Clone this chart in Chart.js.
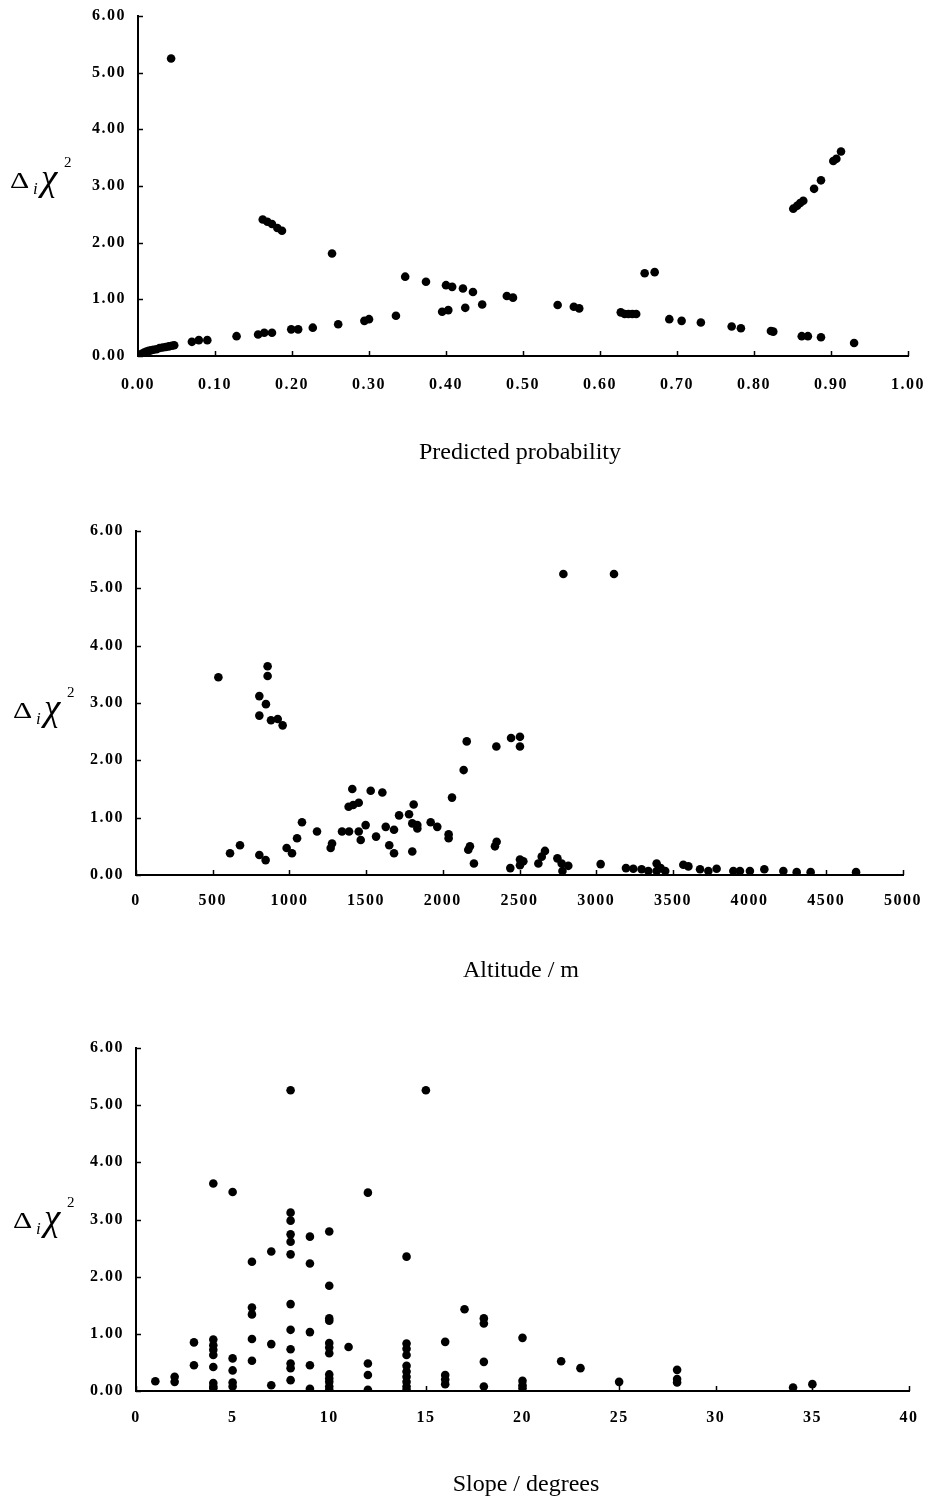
<!DOCTYPE html>
<html>
<head>
<meta charset="utf-8">
<script src="https://cdn.jsdelivr.net/npm/chart.js@4.4.1/dist/chart.umd.min.js"></script>
<style>
  html, body { margin: 0; padding: 0; background: #fff; }
  #page { position: relative; width: 928px; height: 1502px; background: #fff; }
  .panel { position: absolute; left: 0; width: 928px; }
  .panel canvas { display: block; }
</style>
</head>
<body>
<div id="page">
  <div class="panel" style="top:0px"><canvas id="prob-chart" width="928" height="480"></canvas></div>
  <div class="panel" style="top:515px"><canvas id="alt-chart" width="928" height="475"></canvas></div>
  <div class="panel" style="top:1030px"><canvas id="slope-chart" width="928" height="472"></canvas></div>
</div>
<script>
// Shared y axis (delta chi-square)
const yTicks = [0, 1, 2, 3, 4, 5, 6];

// Panel 1: predicted probability
const probTicks = [0, 0.1, 0.2, 0.3, 0.4, 0.5, 0.6, 0.7, 0.8, 0.9, 1.0];
const probX = [
  0.002, 0.005, 0.008, 0.011, 0.014, 0.017, 0.020, 0.024, 0.028, 0.032, 0.036, 0.040, 0.044, 0.047,
  0.043, 0.162, 0.168, 0.174, 0.181, 0.187, 0.252,
  0.070, 0.079, 0.090, 0.128, 0.156, 0.164, 0.174, 0.199, 0.208, 0.227, 0.260, 0.294, 0.300, 0.335,
  0.347, 0.374, 0.395, 0.403, 0.400, 0.408, 0.422, 0.425, 0.435, 0.447, 0.479, 0.487,
  0.545, 0.566, 0.573, 0.627, 0.632, 0.637, 0.642, 0.647,
  0.658, 0.671, 0.690, 0.706, 0.731, 0.771, 0.783, 0.822, 0.825, 0.862, 0.870, 0.887, 0.930,
  0.851, 0.856, 0.860, 0.864, 0.878, 0.887, 0.903, 0.907, 0.913
];
const probY = [
  0.02, 0.04, 0.06, 0.08, 0.09, 0.10, 0.11, 0.12, 0.14, 0.15, 0.16, 0.17, 0.18, 0.19,
  5.25, 2.41, 2.37, 2.33, 2.26, 2.21, 1.81,
  0.25, 0.28, 0.28, 0.35, 0.38, 0.41, 0.41, 0.47, 0.47, 0.50, 0.56, 0.62, 0.65, 0.71,
  1.40, 1.31, 0.78, 0.81, 1.25, 1.22, 1.19, 0.85, 1.13, 0.91, 1.06, 1.03,
  0.90, 0.87, 0.84, 0.77, 0.74, 0.74, 0.74, 0.74,
  1.46, 1.48, 0.65, 0.62, 0.59, 0.52, 0.49, 0.44, 0.43, 0.35, 0.35, 0.33, 0.23,
  2.60, 2.65, 2.70, 2.74, 2.95, 3.10, 3.44, 3.48, 3.61
];

// Panel 2: altitude
const altTicks = [0, 500, 1000, 1500, 2000, 2500, 3000, 3500, 4000, 4500, 5000];
const altX = [
  537, 613, 678, 804, 845, 804, 847, 804, 858, 858, 880, 924, 956,
  982, 1017, 1050, 1082, 1180, 1269, 1278, 1343, 1389, 1410, 1386, 1416, 1452, 1452, 1465,
  1497, 1530, 1565, 1606, 1628, 1651, 1682, 1682, 1715, 1780, 1801, 1810, 1801, 1834, 1834,
  1921, 1964, 2038, 2038, 2060, 2136, 2156, 2166, 2177, 2203, 2340, 2351, 2349,
  2445, 2440, 2503, 2503, 2503, 2525, 2503, 2623, 2645, 2666, 2747, 2775, 2818, 2780,
  2786, 3116, 3029, 3194, 3242, 3296, 3340, 3394, 3394, 3420, 3450, 3568, 3601,
  3677, 3731, 3785, 3894, 3937, 4002, 4096, 4220, 4307, 4398, 4694
];
const altY = [
  3.45, 0.38, 0.52, 0.35, 0.26, 3.12, 2.98, 2.78, 3.64, 3.47, 2.70, 2.72, 2.61,
  0.47, 0.38, 0.64, 0.92, 0.76, 0.47, 0.55, 0.76, 0.76, 1.50, 1.19, 1.22, 1.26, 0.76, 0.61,
  0.87, 1.47, 0.67, 1.44, 0.84, 0.52, 0.79, 0.38, 1.04, 1.06, 0.41, 1.23, 0.90, 0.87, 0.81,
  0.92, 0.84, 0.71, 0.64, 1.35, 1.83, 2.33, 0.44, 0.50, 0.20, 0.50, 0.58, 2.24,
  2.39, 0.12, 2.41, 2.24, 0.27, 0.24, 0.17, 0.20, 0.32, 0.42, 0.29, 0.20, 0.16, 0.07,
  5.25, 5.25, 0.19, 0.12, 0.11, 0.10, 0.07, 0.20, 0.07, 0.12, 0.07, 0.18, 0.15,
  0.10, 0.07, 0.11, 0.07, 0.07, 0.07, 0.10, 0.07, 0.05, 0.05, 0.05
];

// Panel 3: slope
const slopeTicks = [0, 5, 10, 15, 20, 25, 30, 35, 40];
const slopeX = [
  1, 2, 2, 3, 3,
  4, 4, 4, 4, 4, 4, 4, 4, 4,
  5, 5, 5, 5, 5,
  6, 6, 6, 6, 6,
  7, 7, 7,
  8, 8, 8, 8, 8, 8, 8, 8, 8, 8, 8, 8,
  9, 9, 9, 9, 9,
  10, 10, 10, 10, 10, 10, 10, 10, 10, 10, 10, 10,
  11, 12, 12, 12, 12,
  14, 14, 14, 14, 14, 14, 14, 14, 14, 14,
  15, 16, 16, 16, 16, 17, 18, 18, 18, 18,
  20, 20, 20, 20, 22, 23, 25, 28, 28, 28, 34, 35
];
const slopeY = [
  0.17, 0.25, 0.16, 0.85, 0.45,
  3.63, 0.90, 0.80, 0.72, 0.63, 0.42, 0.14, 0.08, 0.05,
  3.48, 0.57, 0.36, 0.15, 0.08,
  2.26, 1.46, 1.34, 0.91, 0.53,
  2.44, 0.82, 0.10,
  5.26, 3.12, 2.98, 2.74, 2.61, 2.39, 1.52, 1.07, 0.73, 0.48, 0.40, 0.19,
  2.70, 2.23, 1.03, 0.45, 0.04,
  2.79, 1.84, 1.27, 1.23, 0.84, 0.76, 0.66, 0.29, 0.22, 0.16, 0.08, 0.02,
  0.77, 3.47, 0.48, 0.28, 0.02,
  2.35, 0.83, 0.74, 0.63, 0.44, 0.34, 0.25, 0.16, 0.08, 0.02,
  5.26, 0.86, 0.28, 0.20, 0.12, 1.43, 1.27, 1.18, 0.51, 0.08,
  0.93, 0.18, 0.10, 0.05, 0.52, 0.40, 0.16, 0.37, 0.21, 0.15, 0.06, 0.12
];

const SERIF = '"Liberation Serif", "Times New Roman", serif';

// Tick labels in the scan are widely spaced
const spacedTicks = {
  id: 'spacedTicks',
  beforeUpdate(chart) {
    chart.ctx.letterSpacing = '1.5px';
  },
  beforeDraw(chart) {
    chart.ctx.letterSpacing = '1.5px';
  }
};

// Ticks in the source point into the plot area, so draw them by hand
const innerTicks = {
  id: 'innerTicks',
  afterDatasetsDraw(chart) {
    const { ctx, chartArea, scales } = chart;
    ctx.save();
    ctx.strokeStyle = '#000';
    ctx.lineWidth = 1.5;
    scales.x.ticks.forEach((t, i) => {
      const x = Math.round(scales.x.getPixelForTick(i)) + 0.5;
      ctx.beginPath();
      ctx.moveTo(x, chartArea.bottom);
      ctx.lineTo(x, chartArea.bottom - 5);
      ctx.stroke();
    });
    scales.y.ticks.forEach((t, i) => {
      const y = Math.round(scales.y.getPixelForTick(i)) + 0.5;
      ctx.beginPath();
      ctx.moveTo(chartArea.left, y);
      ctx.lineTo(chartArea.left + 5, y);
      ctx.stroke();
    });
    ctx.restore();
  }
};

// Axis titles: x title under the plot, y title (Δ_i χ^2) written flat
const axisTitles = {
  id: 'axisTitles',
  afterDraw(chart, args, opts) {
    const ctx = chart.ctx;
    ctx.save();
    ctx.letterSpacing = '0px';
    ctx.fillStyle = '#000';

    ctx.textAlign = 'center';
    ctx.textBaseline = 'middle';
    ctx.font = '24px ' + SERIF;
    ctx.fillText(opts.xText, opts.xTitleX, opts.xTitleY);

    ctx.textAlign = 'left';
    ctx.textBaseline = 'alphabetic';
    const x = opts.x;
    const y = opts.y;
    ctx.save();
    ctx.translate(x, y);
    ctx.scale(1.3, 1);
    ctx.font = '23px ' + SERIF;
    ctx.fillText('\u0394', 0, 0);
    ctx.restore();
    ctx.font = 'italic 17px ' + SERIF;
    ctx.fillText('i', x + 23, y + 6);
    ctx.font = 'italic 37px ' + SERIF;
    ctx.fillText('\u03c7', x + 31, y + 2);
    ctx.font = '15px ' + SERIF;
    ctx.fillText('2', x + 54, y - 21);
    ctx.restore();
  }
};

function toPoints(xs, ys) {
  return xs.map((x, i) => ({ x: x, y: ys[i] }));
}

function buildChart(canvasId, cfg) {
  const ctx = document.getElementById(canvasId);
  return new Chart(ctx, {
    type: 'scatter',
    data: {
      datasets: [
        {
          data: toPoints(cfg.xs, cfg.ys),
          backgroundColor: '#000',
          borderWidth: 0,
          pointRadius: 4.3,
          pointHoverRadius: 4.3
        }
      ]
    },
    options: {
      responsive: false,
      animation: false,
      events: [],
      layout: {
        padding: { top: cfg.top, right: cfg.right, bottom: 0, left: 0 }
      },
      scales: {
        x: {
          type: 'linear',
          min: cfg.xTicks[0],
          max: cfg.xTicks[cfg.xTicks.length - 1],
          afterBuildTicks: scale => {
            scale.ticks = cfg.xTicks.map(v => ({ value: v }));
          },
          afterFit: scale => {
            // fixed plot box: ignore label overhang
            scale.height = cfg.xHeight;
            scale.paddingLeft = 0;
            scale.paddingRight = 0;
          },
          grid: { display: false, drawTicks: false },
          border: { display: true, color: '#000', width: 2 },
          ticks: {
            color: '#000',
            padding: cfg.xPad,
            maxRotation: 0,
            autoSkip: false,
            font: { family: SERIF, size: 16, weight: 'bold' },
            callback: cfg.xFormat
          },
          title: { display: false }
        },
        y: {
          type: 'linear',
          min: 0,
          max: 6,
          afterBuildTicks: scale => {
            scale.ticks = yTicks.map(v => ({ value: v }));
          },
          afterFit: scale => {
            scale.width = cfg.left;
            scale.paddingTop = 0;
            scale.paddingBottom = 0;
          },
          grid: { display: false, drawTicks: false },
          border: { display: true, color: '#000', width: 2 },
          ticks: {
            color: '#000',
            padding: 12,
            autoSkip: false,
            font: { family: SERIF, size: 16, weight: 'bold' },
            callback: v => Number(v).toFixed(2)
          }
        }
      },
      plugins: {
        legend: { display: false },
        tooltip: { enabled: false },
        axisTitles: {
          xText: cfg.title, xTitleX: cfg.titleX, xTitleY: cfg.titleY,
          x: cfg.deltaX, y: cfg.deltaY
        }
      }
    },
    plugins: [spacedTicks, innerTicks, axisTitles]
  });
}

buildChart('prob-chart', {
  xs: probX, ys: probY, xTicks: probTicks,
  xFormat: v => Number(v).toFixed(2),
  title: 'Predicted probability', titleX: 520, titleY: 453,
  left: 138, top: 16, right: 20, xHeight: 124, xPad: 19, deltaX: 10, deltaY: 188
});

buildChart('alt-chart', {
  xs: altX, ys: altY, xTicks: altTicks,
  xFormat: v => String(v),
  title: 'Altitude / m', titleX: 521, titleY: 456,
  left: 136, top: 16, right: 25, xHeight: 115, xPad: 16, deltaX: 13, deltaY: 203
});

buildChart('slope-chart', {
  xs: slopeX, ys: slopeY, xTicks: slopeTicks,
  xFormat: v => String(v),
  title: 'Slope / degrees', titleX: 526, titleY: 455,
  left: 136, top: 18, right: 19, xHeight: 111, xPad: 17, deltaX: 13, deltaY: 198
});
</script>
</body>
</html>
